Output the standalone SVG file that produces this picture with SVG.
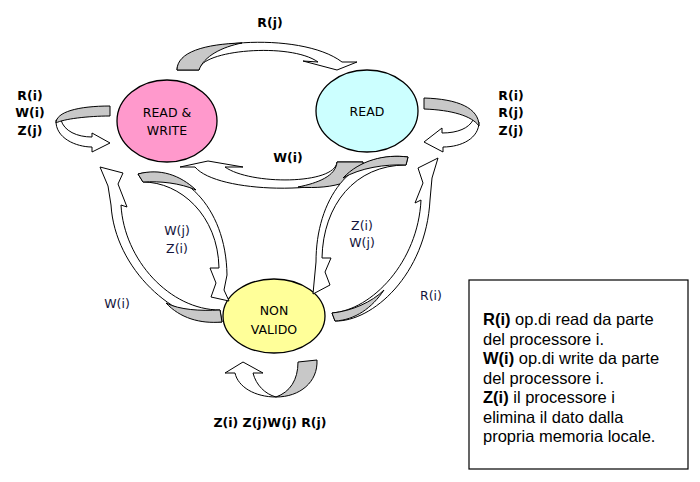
<svg xmlns="http://www.w3.org/2000/svg" width="700" height="482" viewBox="0 0 700 482">
<style>
.st{stroke:#000;stroke-width:1.3}
.band{fill:#fff;stroke:#000;stroke-width:1;stroke-linejoin:miter}
.back{fill:#c8c8c8;stroke:#000;stroke-width:1}
.nl{font-family:"DejaVu Sans","Liberation Sans",sans-serif;font-size:12.5px;fill:#000;text-anchor:middle}
.lb{font-family:"DejaVu Sans","Liberation Sans",sans-serif;font-size:12.5px;font-weight:bold;fill:#000;text-anchor:middle}
.ln{font-family:"DejaVu Sans","Liberation Sans",sans-serif;font-size:12.5px;fill:#14143c;text-anchor:middle}
.lg{font-family:"Liberation Sans",Arial,sans-serif;font-size:16.5px;fill:#000}
</style>
<rect width="700" height="482" fill="#fff"/>
<g id="node-readwrite">
<ellipse cx="167" cy="121" rx="50" ry="41" fill="#ff99cc" class="st"/>
<text class="nl" x="167" y="117">READ &amp;</text>
<text class="nl" x="167" y="135">WRITE</text>
</g>
<g id="node-read">
<ellipse cx="367" cy="111" rx="51" ry="41" fill="#ccffff" class="st"/>
<text class="nl" x="367" y="116">READ</text>
</g>
<g id="node-nonvalido">
<ellipse cx="274" cy="316" rx="51" ry="37" fill="#ffff99" class="st"/>
<text class="nl" x="274" y="315">NON</text>
<text class="nl" x="274" y="334">VALIDO</text>
</g>
<g id="connectors">
<path class="band" d="M177,70 C177,40 300,30 342,62 L357,62 L337,70 L303,61 L318,62 C290,42 200,50 199,70 Z"/>
<path class="back" d="M177,70 C177,52 205,44 242,43 C222,47 204,56 199,70 Z"/>
<path class="band" d="M363,162 C365,195 220,197 195,167 L180,167 L208,161 L243,167 L225,167 C250,185 335,185 337,162 Z"/>
<path class="back" d="M337,162 L363,162 C364,180 335,190 298,187 C318,183 336,176 337,162 Z"/>
<path class="band" d="M56,120 C55,138 76,147 92,147 L92,152 L110,143 L92,133 L92,137 C77,137 64,131 61,120 Z"/>
<path class="back" d="M110,106 C78,106 56,112 56,123 C63,119 88,116 110,116 Z"/>
<path class="band" d="M479,122 C479,138 462,147 443,147 L443,152 L424,142 L442,128 L442,133 C458,133 469,128 473,120 Z"/>
<path class="back" d="M424,98 C458,99 479,108 479,126 C472,116 452,110 424,109 Z"/>
<path class="band" d="M138,174 C180,164 226,205 227,275 L224,290 L229,301 L211,297 L216,283 L210,268 L219,268 C218,215 180,182 143,182 Z"/>
<path class="back" d="M138,174 C160,168 180,175 196,190 C180,183 160,181 143,182 Z"/>
<path class="band" d="M222,322 C175,322 115,270 111,205 L108,186 L100,167 L123,173 L118,184 L127,207 L121,205 C124,260 170,310 220,310 Z"/>
<path class="back" d="M220,310 L222,322 C200,324 180,318 166,303 C180,310 200,311 220,310 Z"/>
<path class="band" d="M408,157 C350,150 316,200 316,262 L314,283 L313,294 L330,285 L325,272 L331,258 L322,258 C323,205 355,165 406,165 Z"/>
<path class="back" d="M408,157 C385,154 360,160 343,178 C360,168 385,164 406,165 Z"/>
<path class="band" d="M335,321 C372,322 426,275 430,200 L432,178 L438,158 L418,168 L423,183 L415,203 L421,200 C418,262 372,310 332,313 Z"/>
<path class="back" d="M332,313 L335,321 C355,320 372,308 384,290 C372,302 352,311 332,313 Z"/>
<path class="band" d="M276,397 C255,397 238,387 235,373 L225,373 L243,362 L263,373 L253,373 C256,385 265,394 276,397 Z"/>
<path class="back" d="M298,362 L317,360 C318,382 300,397 276,397 C290,392 298,380 298,362 Z"/>
</g>
<g id="labels">
<text class="lb" x="270" y="27">R(j)</text>
<text class="lb" x="30" y="100">R(i)</text>
<text class="lb" x="30" y="117">W(i)</text>
<text class="lb" x="30" y="135">Z(j)</text>
<text class="lb" x="511" y="100">R(i)</text>
<text class="lb" x="511" y="117">R(j)</text>
<text class="lb" x="511" y="135">Z(j)</text>
<text class="lb" x="288" y="162">W(i)</text>
<text class="ln" x="177" y="235">W(j)</text>
<text class="ln" x="177" y="253">Z(i)</text>
<text class="ln" x="362" y="230">Z(i)</text>
<text class="ln" x="362" y="247">W(j)</text>
<text class="ln" x="117" y="308">W(i)</text>
<text class="ln" x="431" y="300">R(i)</text>
<text class="lb" x="270" y="427">Z(i) Z(j)W(j) R(j)</text>
</g>
<g id="legend">
<rect x="469" y="280" width="219" height="189" fill="#fff" stroke="#000" stroke-width="1.2"/>
<text class="lg" x="483" y="325"><tspan font-weight="bold">R(i)</tspan> op.di read da parte</text>
<text class="lg" x="483" y="344.5">del processore i.</text>
<text class="lg" x="483" y="364"><tspan font-weight="bold">W(i)</tspan> op.di write da parte</text>
<text class="lg" x="483" y="383.5">del processore i.</text>
<text class="lg" x="483" y="403"><tspan font-weight="bold">Z(i)</tspan> il processore i</text>
<text class="lg" x="483" y="422.5">elimina il dato dalla</text>
<text class="lg" x="483" y="442">propria memoria locale.</text>
</g>
</svg>
